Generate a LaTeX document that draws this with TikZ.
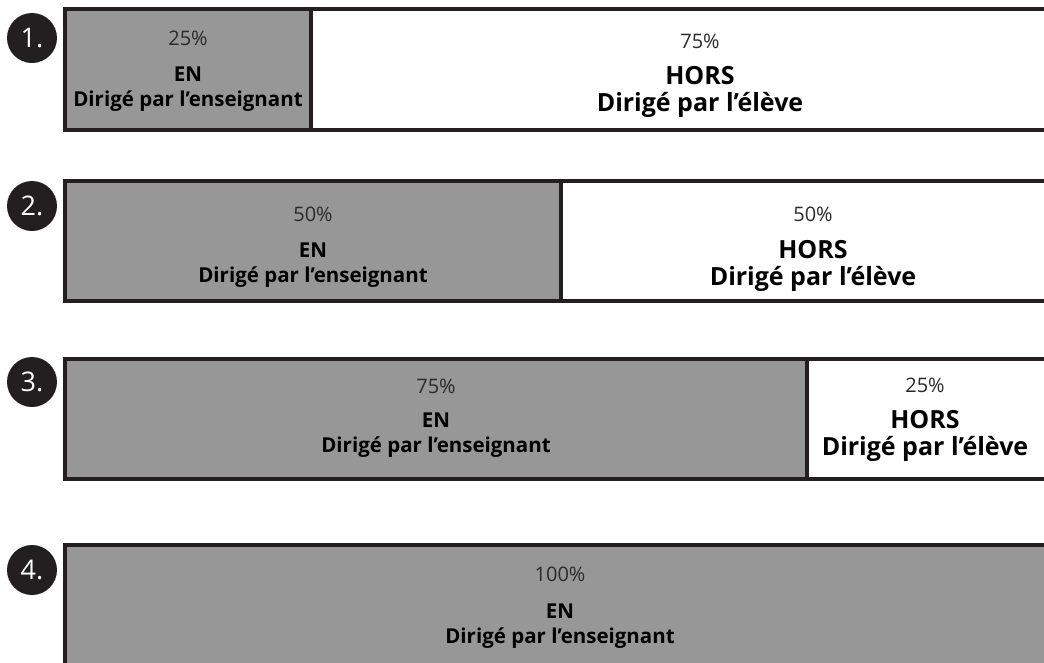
\documentclass[tikz,border=0pt]{standalone}
\usepackage{fontspec}
\setmainfont{Open Sans}
\definecolor{barfill}{HTML}{979797}
\definecolor{barline}{HTML}{231F20}
\definecolor{pcttext}{HTML}{2B2B2B}
\tikzset{
  part/.style={draw=barline, line width=4pt},
  en/.style={part, fill=barfill},
  hors/.style={part, fill=white},
  pct/.style={text=pcttext, font=\fontsize{20}{22}\selectfont},
  enlabel/.style={align=center, font=\bfseries\fontsize{20.5}{25}\selectfont},
  horslabel/.style={align=center, font=\bfseries\fontsize{25}{27}\selectfont},
  num/.style={circle, fill=barline, text=white, minimum size=50pt, inner sep=0pt,
    font=\fontsize{27}{30}\selectfont}
}
\begin{document}
\begin{tikzpicture}[x=1pt, y=-1pt]
      \useasboundingbox (0, 0) rectangle (1044, 662);
      \clip (0, 0) rectangle (1044, 662);
      % 1. 25 / 75
      \node [num] (n1) at (32, 38) {1.};
      \draw [en] (65, 9) rectangle (311, 130);
      \draw [hors] (311, 9) rectangle (1090, 130);
      \node [pct] (p1en) at (188, 38) {25\%};
      \node [enlabel] (l1en) at (188, 89) {EN\\Dirigé par l’enseignant};
      \node [pct] (p1hors) at (700, 41) {75\%};
      \node [horslabel] (l1hors) at (700, 92) {HORS\\Dirigé par l’élève};
      % 2. 50 / 50
      \node [num] (n2) at (32, 206) {2.};
      \draw [en] (65, 181) rectangle (561, 301);
      \draw [hors] (561, 181) rectangle (1065, 301);
      \node [pct] (p2en) at (313, 214) {50\%};
      \node [enlabel] (l2en) at (313, 265) {EN\\Dirigé par l’enseignant};
      \node [pct] (p2hors) at (813, 214) {50\%};
      \node [horslabel] (l2hors) at (813, 266) {HORS\\Dirigé par l’élève};
      % 3. 75 / 25
      \node [num] (n3) at (32, 382) {3.};
      \draw [en] (65, 359) rectangle (807, 479);
      \draw [hors] (807, 359) rectangle (1060, 479);
      \node [pct] (p3en) at (436, 386) {75\%};
      \node [enlabel] (l3en) at (436, 435) {EN\\Dirigé par l’enseignant};
      \node [pct] (p3hors) at (925, 385) {25\%};
      \node [horslabel] (l3hors) at (925, 436) {HORS\\Dirigé par l’élève};
      % 4. 100
      \node [num] (n4) at (32, 570) {4.};
      \draw [en] (65, 545) rectangle (1060, 700);
      \node [pct] (p4en) at (560, 574) {100\%};
      \node [enlabel] (l4en) at (560, 626) {EN\\Dirigé par l’enseignant};
    \end{tikzpicture}
\end{document}
